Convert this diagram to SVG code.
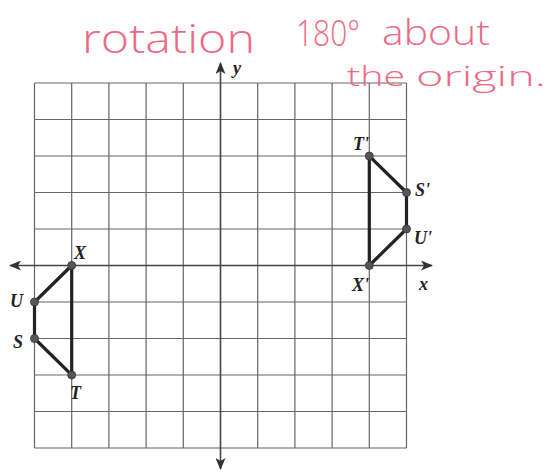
<svg xmlns="http://www.w3.org/2000/svg" width="547" height="472" viewBox="0 0 547 472">
<defs>
<marker id="arr" viewBox="0 0 12 10" refX="11" refY="5" markerWidth="12" markerHeight="10" markerUnits="userSpaceOnUse" orient="auto-start-reverse">
<path d="M0,0 L12,5 L0,10 L3,5 Z" fill="#333"/>
</marker>
</defs>
<style>
.g{stroke:#666;stroke-width:1.2;fill:none}
.ax{stroke:#444;stroke-width:1.6;fill:none}
.seg{stroke:#222;stroke-width:3.2;fill:none;stroke-linecap:round}
.pt{fill:#555;stroke:#333;stroke-width:0.8}
.lb{font-family:"Liberation Serif",serif;font-style:italic;font-weight:bold;font-size:18px;fill:#222}
.hw{font-family:"Open Sans","Liberation Sans",sans-serif;font-weight:300;fill:#ee6a84}
</style>
<rect width="547" height="472" fill="#fff"/>
<g id="grid">
<path class="g" d="M34.5,83V448M71.7,83V448M108.9,83V448M146.1,83V448M183.3,83V448M257.7,83V448M294.9,83V448M332.1,83V448M369.3,83V448M406.5,83V448"/>
<path class="g" d="M34.5,83H406.5M34.5,119.5H406.5M34.5,156H406.5M34.5,192.5H406.5M34.5,229H406.5M34.5,302H406.5M34.5,338.5H406.5M34.5,375H406.5M34.5,411.5H406.5M34.5,448H406.5"/>
</g>
<g id="axes">
<line class="ax" x1="10" y1="265.5" x2="432" y2="265.5" marker-start="url(#arr)" marker-end="url(#arr)"/>
<line class="ax" x1="220.5" y1="63" x2="220.5" y2="469" marker-start="url(#arr)" marker-end="url(#arr)"/>
<text class="lb" x="233" y="74" font-size="14" font-weight="normal">y</text>
<text class="lb" x="419" y="290" font-size="15" font-weight="normal">x</text>
</g>
<g id="connectors">
<path class="seg" d="M71.7,265.5 L34.5,302 L34.5,338.5 L71.7,375 Z"/>
<path class="seg" d="M369.3,265.5 L406.5,229 L406.5,192.5 L369.3,156 Z"/>
</g>
<g id="node-X"><circle class="pt" cx="71.7" cy="265.5" r="4"/><text class="lb" x="74" y="259">X</text></g>
<g id="node-U"><circle class="pt" cx="34.5" cy="302" r="4"/><text class="lb" x="10" y="307">U</text></g>
<g id="node-S"><circle class="pt" cx="34.5" cy="338.5" r="4"/><text class="lb" x="13" y="348">S</text></g>
<g id="node-T"><circle class="pt" cx="71.7" cy="375" r="4"/><text class="lb" x="70" y="399">T</text></g>
<g id="node-Tp"><circle class="pt" cx="369.3" cy="156" r="4"/><text class="lb" x="353" y="150">T'</text></g>
<g id="node-Sp"><circle class="pt" cx="406.5" cy="192.5" r="4"/><text class="lb" x="415" y="196">S'</text></g>
<g id="node-Up"><circle class="pt" cx="406.5" cy="229" r="4"/><text class="lb" x="414" y="244">U'</text></g>
<g id="node-Xp"><circle class="pt" cx="369.3" cy="265.5" r="4"/><text class="lb" x="352" y="291">X'</text></g>
<g id="note">
<text class="hw" x="82" y="53" font-size="40" textLength="173" lengthAdjust="spacingAndGlyphs">rotation</text>
<text class="hw" x="296" y="46" font-size="36" textLength="64" lengthAdjust="spacingAndGlyphs">180°</text>
<text class="hw" x="382" y="45" font-size="34" textLength="108" lengthAdjust="spacingAndGlyphs">about</text>
<text class="hw" x="347" y="86" font-size="28" textLength="58" lengthAdjust="spacingAndGlyphs">the</text>
<text class="hw" x="416" y="86" font-size="28" textLength="130" lengthAdjust="spacingAndGlyphs">origin.</text>
</g>
</svg>
